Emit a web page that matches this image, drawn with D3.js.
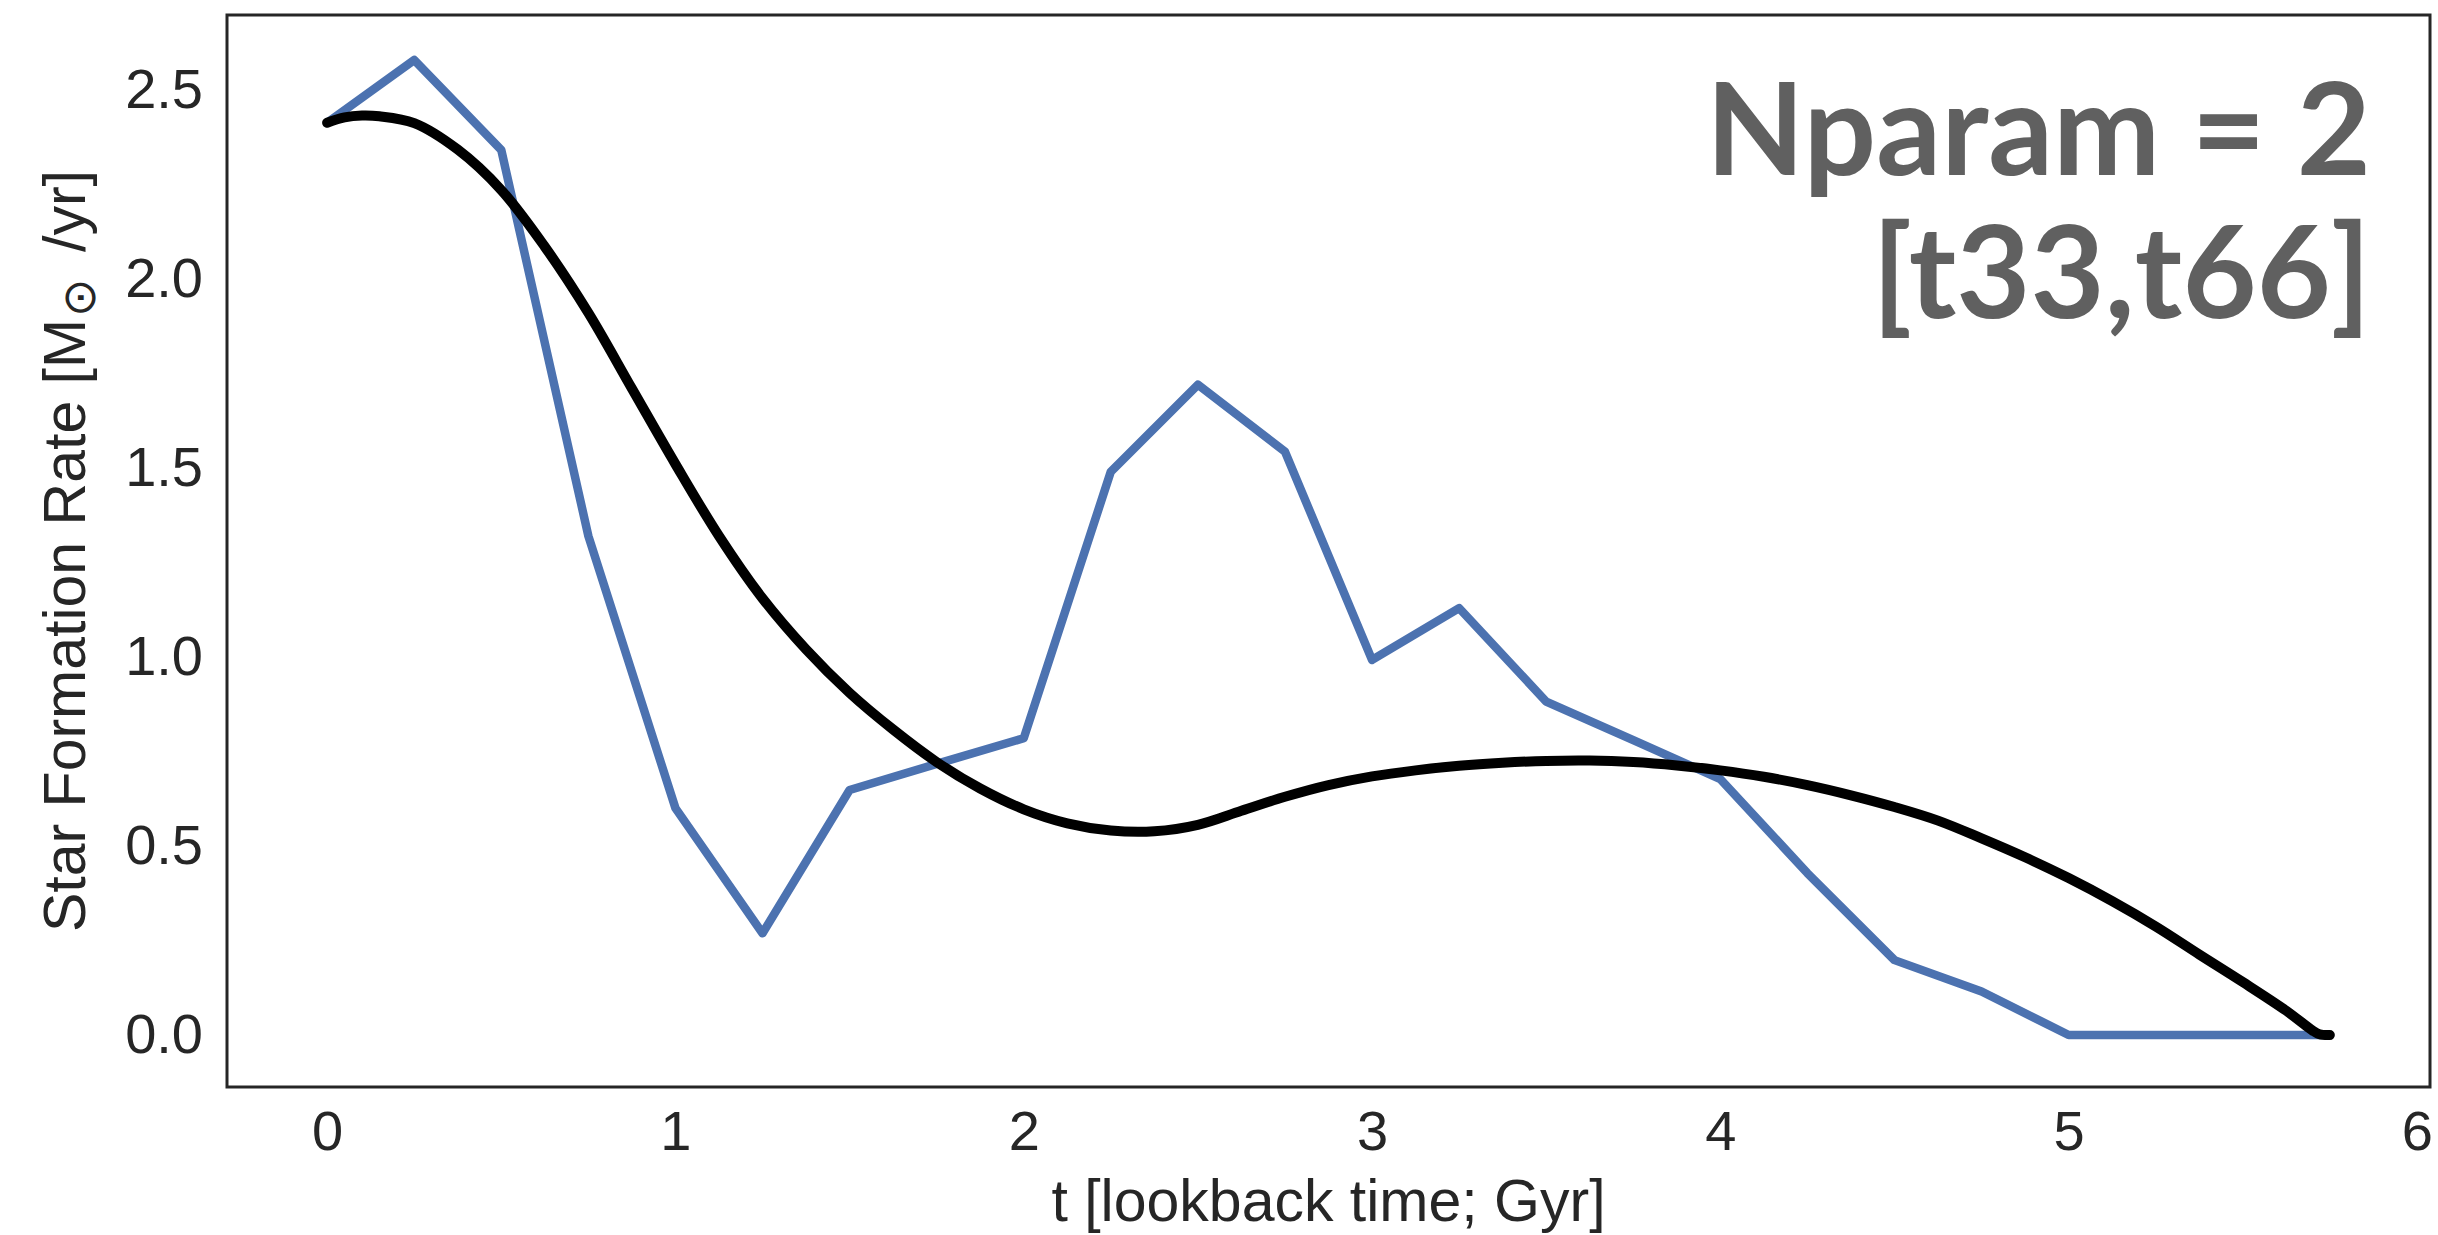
<!DOCTYPE html>
<html>
<head>
<meta charset="utf-8">
<script src="https://cdn.jsdelivr.net/npm/d3@7/dist/d3.min.js"></script>
<style>
  html, body { margin: 0; padding: 0; background: #ffffff; }
  svg { display: block; }
</style>
</head>
<body>
<svg id="chart" width="2438" height="1235"></svg>
<script>
// ---- data ----
const sfhTime = [0, 0.25, 0.5, 0.75, 1.0, 1.25, 1.5, 1.75, 2.0, 2.25, 2.5, 2.75,
                 3.0, 3.25, 3.5, 3.75, 4.0, 4.25, 4.5, 4.75, 5.0, 5.25, 5.5, 5.75];
const sfhValue = [2.413, 2.579, 2.341, 1.32, 0.60, 0.269, 0.648, 0.717, 0.785, 1.490, 1.720, 1.543,
                  0.992, 1.129, 0.882, 0.780, 0.677, 0.428, 0.198, 0.115, 0.0, 0.0, 0.0, 0.0];

const fitTime = [0, 0.05, 0.10, 0.15, 0.25, 0.375, 0.5, 0.625, 0.75, 0.875, 1.0, 1.125, 1.25,
                 1.375, 1.5, 1.625, 1.75, 1.875, 2.0, 2.125, 2.25, 2.375, 2.5, 2.625, 2.75,
                 2.875, 3.0, 3.125, 3.25, 3.375, 3.5, 3.625, 3.75, 3.875, 4.0, 4.125, 4.25,
                 4.375, 4.5, 4.625, 4.75, 4.875, 5.0, 5.125, 5.25, 5.375, 5.5, 5.625, 5.70, 5.72, 5.75];
const fitValue = [2.413, 2.427, 2.432, 2.430, 2.412, 2.342, 2.235, 2.085, 1.91, 1.71, 1.51, 1.32, 1.155,
                  1.02, 0.905, 0.808, 0.722, 0.652, 0.597, 0.560, 0.541, 0.539, 0.556, 0.593, 0.630,
                  0.661, 0.684, 0.700, 0.712, 0.720, 0.725, 0.726, 0.722, 0.713, 0.700, 0.683, 0.661,
                  0.634, 0.603, 0.567, 0.520, 0.470, 0.415, 0.354, 0.287, 0.213, 0.140, 0.064, 0.012, 0.002, 0.0];

const xTicks = [0, 1, 2, 3, 4, 5, 6];
const yTicks = [0.0, 0.5, 1.0, 1.5, 2.0, 2.5];
const xLabel = "t [lookback time; Gyr]";
const annotLines = ["Nparam = 2", "[t33,t66]"];

// ---- layout ----
const plot = { left: 227, right: 2430, top: 15, bottom: 1087 };
const svg = d3.select("#chart");
svg.append("rect").attr("width", 2438).attr("height", 1235).attr("fill", "#ffffff");

const x = d3.scaleLinear().domain([-0.2875, 6.0375]).range([plot.left, plot.right]);
const y = d3.scaleLinear().domain([-0.1376, 2.698]).range([plot.bottom, plot.top]);

const tickFont = "'Liberation Sans', Arial, sans-serif";
const textColor = "#262626";

// clip
svg.append("defs").append("clipPath").attr("id", "clip")
  .append("rect")
  .attr("x", plot.left).attr("y", plot.top)
  .attr("width", plot.right - plot.left).attr("height", plot.bottom - plot.top);

// axes
const xAxis = d3.axisBottom(x).tickValues(xTicks).tickFormat(d3.format("d")).tickSize(0).tickPadding(23);
const gx = svg.append("g").attr("transform", `translate(0,${plot.bottom})`).call(xAxis);
gx.select(".domain").remove();
gx.selectAll("text").attr("font-family", tickFont).attr("font-size", 56).attr("fill", textColor);

const yAxis = d3.axisLeft(y).tickValues(yTicks).tickFormat(d3.format(".1f")).tickSize(0).tickPadding(24);
const gy = svg.append("g").attr("transform", `translate(${plot.left},0)`).call(yAxis);
gy.select(".domain").remove();
gy.selectAll("text").attr("font-family", tickFont).attr("font-size", 56).attr("fill", textColor);

// lines
const gLines = svg.append("g").attr("clip-path", "url(#clip)");
const sfhData = sfhTime.map((t, i) => [t, sfhValue[i]]);
const fitData = fitTime.map((t, i) => [t, fitValue[i]]);

gLines.append("path")
  .datum(sfhData)
  .attr("d", d3.line().x(d => x(d[0])).y(d => y(d[1])))
  .attr("fill", "none")
  .attr("stroke", "#4C72B0")
  .attr("stroke-width", 8.5)
  .attr("stroke-linejoin", "round")
  .attr("stroke-linecap", "butt");

gLines.append("path")
  .datum(fitData)
  .attr("d", d3.line().curve(d3.curveCatmullRom.alpha(0.5)).x(d => x(d[0])).y(d => y(d[1])))
  .attr("fill", "none")
  .attr("stroke", "#000000")
  .attr("stroke-width", 10)
  .attr("stroke-linejoin", "round")
  .attr("stroke-linecap", "round");

// frame
svg.append("rect")
  .attr("x", plot.left).attr("y", plot.top)
  .attr("width", plot.right - plot.left).attr("height", plot.bottom - plot.top)
  .attr("fill", "none").attr("stroke", "#262626").attr("stroke-width", 3);

// axis labels
svg.append("text")
  .attr("x", (plot.left + plot.right) / 2).attr("y", 1221)
  .attr("text-anchor", "middle")
  .attr("font-family", tickFont).attr("font-size", 59).attr("fill", textColor)
  .text(xLabel);

const yl = svg.append("text")
  .attr("transform", `translate(85,${(plot.top + plot.bottom) / 2}) rotate(-90)`)
  .attr("text-anchor", "middle")
  .attr("font-family", tickFont).attr("font-size", 59).attr("fill", textColor);
yl.append("tspan").text("Star Formation Rate [M");
yl.append("tspan").attr("font-size", 46).attr("dy", 10).attr("dx", 2)
  .attr("font-family", "'DejaVu Sans', sans-serif").text("\u2299");
yl.append("tspan").attr("dy", -10).attr("dx", 10).text("\u00a0/yr]");

// annotation
const annot = svg.append("text")
  .attr("text-anchor", "end")
  .attr("font-family", "Lato, 'Open Sans', sans-serif")
  .attr("font-weight", 700)
  .attr("font-size", 128)
  .attr("fill", "#606060");
annot.append("tspan").attr("x", 2371).attr("y", 175).text(annotLines[0]);
annot.append("tspan").attr("x", 2371).attr("y", 318).text(annotLines[1]);
</script>
</body>
</html>
